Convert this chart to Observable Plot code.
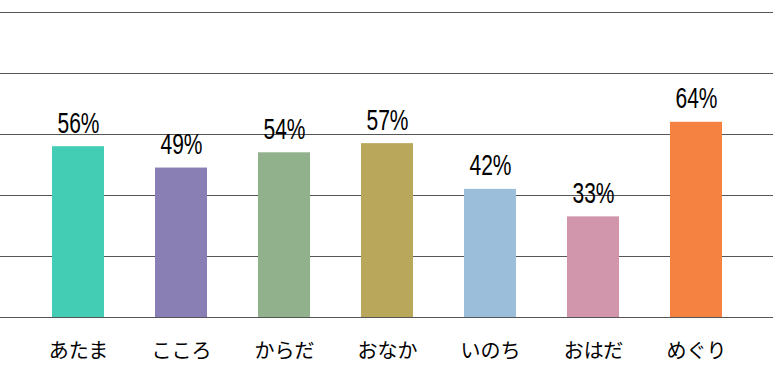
<!DOCTYPE html>
<html>
<head>
<meta charset="utf-8">
<script src="https://cdn.jsdelivr.net/npm/d3@7"></script>
<script src="https://cdn.jsdelivr.net/npm/@observablehq/plot@0.6"></script>
<style>
  html, body { margin: 0; padding: 0; background: #fff; }
  #chart svg { display: block; }
</style>
</head>
<body>
<div id="chart"></div>
<script>
const categories = ["あたま", "こころ", "からだ", "おなか", "いのち", "おはだ", "めぐり"];
const values = [56, 49, 54, 57, 42, 33, 64];
const colors = ["#42CDB4", "#8A7FB4", "#90B18C", "#B9A85C", "#9BBFDA", "#D296AC", "#F68241"];
const gridTicks = [0, 20, 40, 60, 80, 100];

const data = categories.map((c, i) => ({category: c, value: values[i]}));

const chart = Plot.plot({
  width: 775,
  height: 383,
  marginTop: 12,
  marginBottom: 66,
  marginLeft: 0,
  marginRight: 2,
  x: {domain: categories, range: [52, 722], paddingInner: 0.495, paddingOuter: 0, round: false, label: null},
  y: {domain: [0, 100], label: null, axis: null},
  color: {domain: categories, range: colors},
  marks: [
    Plot.ruleY(gridTicks, {stroke: "#555", strokeWidth: 1}),
    Plot.barY(data, {x: "category", y: "value", fill: "category"}),
    Plot.text(data, {
      x: "category", y: "value", text: d => d.value + "%",
      lineAnchor: "bottom", dy: -14,
      fontSize: 30, fill: "#000",
      fontFamily: "'Liberation Sans', Arial, sans-serif",
      className: "vlabel"
    }),
    Plot.axisX({
      tickSize: 0, tickPadding: 26, fontSize: 20, color: "#000",
      fontFamily: "'Noto Sans CJK JP', sans-serif", label: null
    })
  ]
});
chart.style.fontFamily = "'Noto Sans CJK JP', sans-serif";
document.getElementById("chart").appendChild(chart);
// emulate the condensed numeral font of the reference
chart.querySelectorAll(".vlabel text").forEach(t => {
  const tr = t.getAttribute("transform") || "";
  t.setAttribute("transform", tr + " scale(0.7,1)");
});
</script>
</body>
</html>
